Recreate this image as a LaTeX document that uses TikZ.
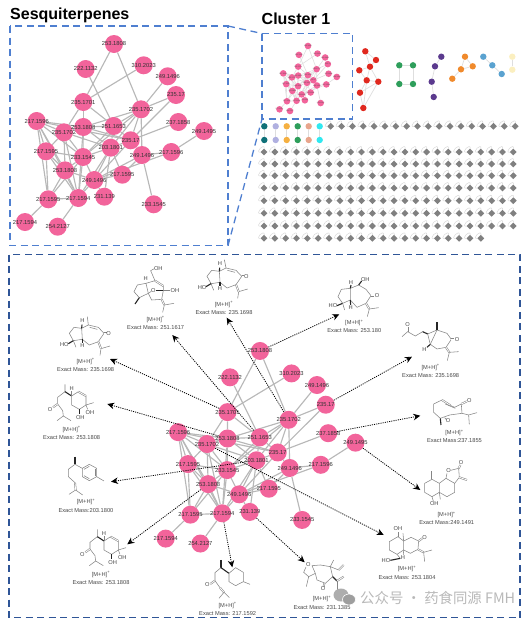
\documentclass[tikz,border=0pt]{standalone}
\usepackage{fontspec}
\setmainfont{Liberation Sans}
\newfontfamily\cjk{Noto Sans CJK SC}
\usetikzlibrary{arrows.meta,shapes.geometric,backgrounds}
\definecolor{mspink}{HTML}{F2649B}
\definecolor{framelight}{HTML}{4F7FD0}
\definecolor{framedark}{HTML}{2F5597}
\tikzset{
  msbig/.style={circle,fill=mspink,minimum size=18pt,inner sep=0pt},
  msmini/.style={circle,fill=mspink,minimum size=6.6pt,inner sep=0pt},
  bigtext/.style={inner sep=0pt,text=black!80,font=\fontsize{5.8}{6}\selectfont},
  minitext/.style={inner sep=0pt,text=black!70,font=\fontsize{1.8}{2}\selectfont},
  bigedge/.style={draw=black!28,line width=1.15pt},
  miniedge/.style={draw=black!13,line width=.6pt},
  clnode/.style={circle,minimum size=6.4pt,inner sep=0pt},
  cledge/.style={draw=black!13,line width=.7pt},
  singlenode/.style={diamond,fill=black!50,minimum size=7pt,inner sep=0pt},
  selfloop/.style={draw=black!16,line width=.45pt,out=185,in=85,min distance=6.5pt},
  zoomframe/.style={dash pattern=on 7pt off 4.5pt,line width=1.3pt},
  msarrow/.style={black,line width=.8pt,dash pattern=on 1.1pt off 1.1pt,-{Stealth[length=7pt,width=6.5pt]}},
  mslabel/.style={align=center,text=black!72,font=\fontsize{5.7}{8.2}\selectfont},
  bond/.style={draw=black!48,line width=.55pt},
  dbond/.style={bond,double=white,double distance=.8pt},
  wedge/.style={draw=black!85,line width=1.1pt},
  atomtxt/.style={text=black!72,inner sep=0pt,font=\fontsize{5.7}{6}\selectfont},
  cropA/.style={shift={(0pt,-250pt)},x=.3333pt,y=-.3333pt},
  cropB/.style={shift={(262pt,-250pt)},x=.3333pt,y=-.3333pt},
  cropC/.style={shift={(0pt,-435pt)},x=.3333pt,y=-.3333pt},
  cropD/.style={shift={(262pt,-435pt)},x=.3333pt,y=-.3333pt},
}
% the cluster: same nodes and edges in all three places
\newcommand{\sesqnet}[1]{
  \foreach \n/\x/\y/\t in {a/114/44/253.1808,b/85.7/69/222.1132,c/143.7/65.3/310.2023,d/167.7/76.3/249.1496,
    e/176/95/235.17,f/83.3/102/235.1701,g/141/109.3/235.1702,h/178.3/122/237.1858,i/204/131/249.1495,
    j/36.7/121/217.1596,k/64/132.3/235.1702,l/83.3/127/253.1808,m/113.7/126/251.1653,n/130.7/140.3/235.17,
    o/110.7/147.7/203.1801,p/46/151.3/217.1595,q/83/157/233.1545,r/142/155/249.1496,s/171.3/152/217.1596,
    t/65/170.3/253.1808,u/122.3/174.7/217.1595,v/94.3/180/249.1496,w/104.3/196.7/231.139,x/48.3/199.3/217.1595,
    y/78.3/198/217.1594,z/153.7/204.3/233.1545,aa/25/222/217.1594,bb/57.7/226.7/254.2127}
    \node[msnode,label={[mstext]center:\t}] (#1\n) at (\x,\y) {};
  \begin{pgfonlayer}{background}
  \foreach \s/\e in {a/f,a/g,b/m,c/f,d/g,e/g,e/n,h/n,i/s,s/r,s/v,g/n,g/m,g/l,g/r,g/o,g/q,f/k,f/l,f/m,
    j/k,j/p,j/t,j/x,j/y,j/l,j/n,j/q,k/q,k/l,k/p,k/t,k/y,k/o,l/q,l/m,l/n,l/o,l/y,m/o,m/n,m/q,n/o,n/r,n/v,
    o/q,o/v,o/y,o/w,o/u,p/t,p/q,p/x,p/y,q/t,q/v,q/y,q/x,r/u,r/v,r/z,t/x,t/y,t/v,u/v,v/w,v/y,x/y,x/aa,y/bb}
    \draw[msedge] (#1\s) -- (#1\e);
  \end{pgfonlayer}
}
% guaiane skeleton with the ketone
\newcommand{\guaiane}{
  \draw[bond] (245,235) -- (222,232) -- (208,250) -- (220,272) -- (247,268) -- cycle;
  \draw[bond] (245,235) -- (265,225);
  \draw[bond] (265,225) -- (295,232) -- (312,250) -- (295,275) -- (268,285) -- (247,268);
  \draw[bond] (303,296) -- (330,288);
  \draw[bond] (303,296) -- (300,316);
  \draw[dbond] (295,275) -- (303,296);
  \draw[dbond] (312,250) -- (320,250);
  \draw[wedge] (220,272) -- (205,281);
  \draw[bond] (220,272) -- (228,292);
  \draw[wedge] (245,235) -- (246,224);
  \draw[wedge] (247,268) -- (247,279);
  \node[atomtxt] at (326,250) {O};
  \node[atomtxt] at (193,283) {HO};
  \node[atomtxt] at (247,213) {H};
  \node[atomtxt] at (247,287) {H};
}
% open chain with the diol ring
\newcommand{\diolring}{
  \draw[bond] (292,283) -- (292,305) -- (270,322) -- (270,342) -- (285,362) -- (287,378) -- (268,392);
  \draw[bond] (287,378) -- (310,392);
  \draw[dbond] (270,342) -- (256,352);
  \draw[wedge] (292,305) -- (312,318);
  \draw[bond] (312,318) -- (332,305);
  \draw[dbond] (332,305) -- (355,318);
  \draw[bond] (355,318) -- (355,345) -- (335,358) -- (312,345) -- (312,318);
  \draw[bond] (355,345) -- (378,338);
  \draw[bond] (355,345) -- (360,358);
  \draw[wedge] (335,358) -- (335,373);
  \draw[bond] (312,318) -- (312,304);
  \node[atomtxt] at (312,295) {H};
  \node[atomtxt] at (247,358) {O};
  \node[atomtxt] at (367,368) {OH};
  \node[atomtxt] at (338,382) {OH};
}
\begin{document}
\begin{tikzpicture}[x=1pt,y=-1pt]
\useasboundingbox (0,0) rectangle (532,619);
% titles
\node[anchor=west,inner sep=0pt,font=\fontsize{16}{18}\selectfont\bfseries] (sesqtitle) at (10,15) {Sesquiterpenes};
\node[anchor=west,inner sep=0pt,font=\fontsize{16}{18}\selectfont\bfseries] (clustertitle) at (261.5,19) {Cluster 1};
% frames
\coordinate (sesqnw) at (10,26);
\coordinate (sesqne) at (228,26);
\coordinate (sesqse) at (228,245.5);
\coordinate (clnw) at (262,33.5);
\coordinate (clsw) at (262,119);
\coordinate (clse) at (352.5,119);
\coordinate (bignw) at (9,254.5);
\coordinate (bigse) at (520,617.5);
\draw[zoomframe,framelight] (sesqnw) rectangle (sesqse);
\draw[zoomframe,framelight] (clnw) rectangle (clse);
\draw[zoomframe,framelight] (sesqne) -- (clnw);
\draw[zoomframe,framelight] (sesqse) -- (clsw);
\draw[zoomframe,framedark] (bignw) rectangle (bigse);
% the three copies
\begin{scope}[msnode/.style=msbig,mstext/.style=bigtext,msedge/.style=bigedge]
\sesqnet{top}
\end{scope}
\begin{scope}[shift={(271.5pt,-30.3pt)},xscale=.32,yscale=.356,msnode/.style=msmini,mstext/.style=minitext,msedge/.style=miniedge]
\sesqnet{mini}
\end{scope}
\begin{scope}[shift={(139.2pt,-304.6pt)},xscale=1.06,yscale=1.054,msnode/.style=msbig,mstext/.style=bigtext,msedge/.style=bigedge]
\sesqnet{net}
\end{scope}
% small clusters
\foreach \n/\x/\y in {1/365.3/51.3,2/376/60,3/359.3/70.3,4/370/66.7,5/366.7/80.3,6/378.3/81.7,7/360/92.7,8/363.3/108}
  \node[clnode,fill={rgb,255:red,224;green,40;blue,30}] (red\n) at (\x,\y) {};
\foreach \n/\x/\y in {1/399.3/65.3,2/413/65.3,3/399.3/84,4/413/84}
  \node[clnode,fill={rgb,255:red,46;green,158;blue,91}] (grn\n) at (\x,\y) {};
\foreach \n/\x/\y in {1/441.3/56.7,2/435/66.3,3/431.7/81.7,4/433.7/97}
  \node[clnode,fill={rgb,255:red,91;green,58;blue,142}] (pur\n) at (\x,\y) {};
\foreach \n/\x/\y in {1/465/56.7,2/472.7/66.3,3/461/69.3,4/452.3/78.7}
  \node[clnode,fill={rgb,255:red,240;green,138;blue,44}] (org\n) at (\x,\y) {};
\foreach \n/\x/\y in {1/483.3/56.7,2/492.3/65.3,3/501.7/74}
  \node[clnode,fill={rgb,255:red,90;green,162;blue,208}] (blu\n) at (\x,\y) {};
\foreach \n/\x/\y in {1/512.3/56.7,2/512.3/69.7}
  \node[clnode,fill={rgb,255:red,251;green,239;blue,192}] (crm\n) at (\x,\y) {};
\foreach \n/\x/\c in {1/264.3/{rgb,255:red,15;green,112;blue,120},2/275.7/{rgb,255:red,176;green,176;blue,224},
  3/286.7/{rgb,255:red,245;green,176;blue,65},4/297.7/{rgb,255:red,46;green,158;blue,91},
  5/308.7/{rgb,255:red,232;green,165;blue,140},6/319.7/{rgb,255:red,48;green,232;blue,240}}{
  \node[clnode,fill=\c] (pairup\n) at (\x,126.3) {};
  \node[clnode,fill=\c] (pairdn\n) at (\x,140) {};
}
\begin{pgfonlayer}{background}
\foreach \s/\e in {red1/red2,red1/red4,red2/red4,red3/red4,red4/red5,red4/red6,red5/red6,red3/red5,red5/red7,red6/red7,red6/red8,red7/red8,red5/red8,
  grn1/grn2,grn2/grn4,grn4/grn3,grn3/grn1,pur1/pur2,pur2/pur3,pur3/pur4,org1/org2,org1/org3,org2/org3,org3/org4,blu1/blu2,blu2/blu3,crm1/crm2,
  pairup1/pairdn1,pairup2/pairdn2,pairup3/pairdn3,pairup4/pairdn4,pairup5/pairdn5,pairup6/pairdn6}
  \draw[cledge] (\s) -- (\e);
\end{pgfonlayer}
% singletons with their self loops
\foreach \col in {0,...,17}{
  \pgfmathsetmacro\xx{330.7+10.85*\col}
  \node[singlenode] (first\col) at (\xx,126.3) {};
  \draw[selfloop] (first\col) to (first\col);
}
\foreach \row/\yy/\last in {1/152/23,2/164/23,3/175.7/23,4/188/23,5/200.7/23,6/213.3/23,7/226/23,8/238.3/20}{
  \foreach \col in {0,...,\last}{
    \pgfmathsetmacro\xx{264+10.84*\col}
    \node[singlenode] (g\row-\col) at (\xx,\yy) {};
    \draw[selfloop] (g\row-\col) to (g\row-\col);
  }
}
% captions
\node[mslabel] (cap1) at (85.7,364.8) {[M+H]\textsuperscript{+}\\Exact Mass: 235.1698};
\node[mslabel] (cap2) at (155.7,323) {[M+H]\textsuperscript{+}\\Exact Mass: 251.1617};
\node[mslabel] (cap3) at (224,308) {[M+H]\textsuperscript{+}\\Exact Mass: 235.1698};
\node[mslabel] (cap4) at (354.3,326.3) {[M+H]\textsuperscript{+}\\Exact Mass: 253.180};
\node[mslabel] (cap5) at (430.7,371) {[M+H]\textsuperscript{+}\\Exact Mass: 235.1698};
\node[mslabel] (cap6) at (454.5,436.5) {[M+H]\textsuperscript{+}\\Exact Mass:237.1855};
\node[mslabel] (cap7) at (446.7,518.3) {[M+H]\textsuperscript{+}\\Exact Mass:249.1491};
\node[mslabel] (cap8) at (407,572.7) {[M+H]\textsuperscript{+}\\Exact Mass: 253.1804};
\node[mslabel] (cap9) at (322,602.7) {[M+H]\textsuperscript{+}\\Exact Mass: 231.1385};
\node[mslabel] (cap10) at (227.7,609) {[M+H]\textsuperscript{+}\\Exact Mass: 217.1592};
\node[mslabel] (cap11) at (101,578.2) {[M+H]\textsuperscript{+}\\Exact Mass: 253.1808};
\node[mslabel] (cap12) at (86,505.7) {[M+H]\textsuperscript{+}\\Exact Mass:203.1800};
\node[mslabel] (cap13) at (71.7,433.2) {[M+H]\textsuperscript{+}\\Exact Mass: 253.1808};
% structures
\begin{scope}[cropA]
\guaiane
\draw[bond] (262,200) -- (265,225);
\draw[bond] (269,232) -- (292,238);
\end{scope}
\begin{scope}[cropA]
\draw[bond] (438,100) -- (412,105) -- (402,125) -- (418,143) -- (445,130) -- cycle;
\draw[bond] (438,100) -- (465,92);
\draw[dbond] (465,92) -- (490,108);
\draw[bond] (490,108) -- (490,122) -- (485,148) -- (455,150) -- (445,130);
\draw[bond] (465,92) -- (452,62) -- (463,56);
\draw[bond] (445,130) -- (454,124);
\draw[wedge] (467,122) -- (490,122);
\draw[bond] (490,122) -- (511,122);
\draw[wedge] (418,143) -- (405,162);
\draw[dbond] (485,148) -- (493,165);
\draw[bond] (493,165) -- (522,160);
\draw[bond] (493,165) -- (488,187);
\node[atomtxt] at (475,55) {OH};
\node[atomtxt] at (437,87) {H};
\node[atomtxt] at (460,122) {O};
\node[atomtxt] at (525,122) {OH};
\end{scope}
\begin{scope}[cropA,xshift=137.7pt,yshift=57pt]
\guaiane
\draw[bond] (265,225) -- (260,200);
\draw[bond] (269,232) -- (292,238);
\end{scope}
\begin{scope}[cropB]
\draw[bond] (265,115) -- (238,118) -- (228,140) -- (242,160) -- (265,150) -- cycle;
\draw[bond] (265,115) -- (290,105) -- (312,118) -- (327,137) -- (312,160) -- (285,172) -- (265,150);
\draw[wedge] (290,105) -- (299,93);
\draw[dbond] (327,137) -- (336,137);
\draw[dbond] (312,160) -- (322,177);
\draw[bond] (322,177) -- (350,173);
\draw[bond] (322,177) -- (316,200);
\draw[wedge] (242,160) -- (225,167);
\draw[bond] (242,160) -- (248,180);
\draw[wedge] (265,150) -- (266,165);
\draw[wedge] (265,115) -- (267,105);
\node[atomtxt] at (267,98) {H};
\node[atomtxt] at (310,90) {OH};
\node[atomtxt] at (345,137) {O};
\node[atomtxt] at (213,168) {HO};
\node[atomtxt] at (266,172) {H};
% open chain on the bridged ring
\draw[dbond] (437,232) -- (437,245);
\draw[bond] (420,260) -- (437,245) -- (460,258) -- (482,245);
\draw[wedge] (482,245) -- (497,252);
\draw[bond] (497,252) -- (525,240) -- (555,250) -- (568,268) -- (552,292) -- (525,297) -- (505,283) -- (497,252);
\draw[bond] (525,240) -- (505,283);
\draw[wedge] (525,240) -- (525,217);
\draw[wedge] (505,283) -- (495,292);
\draw[dbond] (568,268) -- (577,268);
\draw[dbond] (552,292) -- (562,307);
\draw[bond] (562,307) -- (590,305);
\draw[bond] (562,307) -- (556,332);
\node[atomtxt] at (437,223) {O};
\node[atomtxt] at (487,298) {H};
\node[atomtxt] at (585,268) {O};
% ten membered ring
\draw[bond] (598,462) -- (578,472) -- (565,466);
\draw[dbond] (540,450) -- (565,466);
\draw[bond] (550,462) -- (580,475);
\draw[bond] (540,450) -- (515,462) -- (515,487) -- (535,505) -- (563,495) -- (600,490) -- (598,462);
\draw[dbond] (598,462) -- (615,454);
\draw[wedge] (535,505) -- (537,525);
\draw[bond] (548,503) -- (553,509);
\draw[bond] (600,490) -- (620,495) -- (645,488);
\draw[bond] (620,495) -- (622,523);
\node[atomtxt] at (622,452) {O};
\node[atomtxt] at (558,513) {O};
\end{scope}
\begin{scope}[cropC,xshift=-32.33pt,yshift=145pt]
\diolring
\end{scope}
\begin{scope}[cropC]
\diolring
% open chain on the aromatic ring
\draw[wedge] (225,65) -- (225,88);
\draw[bond] (225,88) -- (205,103) -- (205,125) -- (225,143);
\draw[dbond] (225,143) -- (227,165);
\draw[bond] (227,165) -- (207,178);
\draw[bond] (227,165) -- (248,180);
\draw[bond] (225,88) -- (247,100);
\draw[bond] (247,100) -- (268,88) -- (290,100) -- (290,125) -- (268,137) -- (247,125) -- cycle;
\draw[bond] (252,103) -- (268,94);
\draw[bond] (285,103) -- (285,122);
\draw[bond] (252,122) -- (268,131);
\draw[bond] (290,125) -- (312,138);
% same with the ketone chain
\draw[wedge] (663,375) -- (663,398);
\draw[bond] (663,398) -- (645,413) -- (645,437) -- (660,458);
\draw[dbond] (645,437) -- (631,447);
\draw[dbond] (660,458) -- (672,472);
\draw[bond] (672,472) -- (657,490);
\draw[bond] (672,472) -- (688,488);
\draw[wedge] (663,398) -- (687,415);
\draw[bond] (687,415) -- (707,398) -- (730,412) -- (730,440) -- (707,452) -- (687,440) -- cycle;
\draw[bond] (730,440) -- (750,448);
\node[atomtxt] at (622,450) {O};
\end{scope}
\begin{scope}[cropD]
\draw[bond] (510,133) -- (488,145) -- (488,172) -- (510,185) -- (532,172) -- (532,145) -- cycle;
\draw[bond] (532,145) -- (552,130) -- (578,145) -- (578,172) -- (555,185) -- (532,172);
\draw[bond] (552,130) -- (555,115);
\draw[bond] (566,106) -- (590,100) -- (592,127) -- (578,145);
\draw[dbond] (590,100) -- (595,90);
\draw[dbond] (592,127) -- (615,135);
\draw[dbond] (510,133) -- (510,108);
\draw[bond] (510,185) -- (514,198);
\draw[bond] (532,172) -- (535,193);
\node[atomtxt] at (560,107) {O};
\node[atomtxt] at (597,84) {O};
\node[atomtxt] at (517,207) {OH};
% decalin below it
\draw[bond] (408,305) -- (382,320) -- (382,345) -- (405,358) -- (425,345) -- (425,318) -- cycle;
\draw[bond] (425,318) -- (447,307) -- (470,318) -- (468,343) -- (445,355) -- (425,345);
\draw[dbond] (470,318) -- (481,310);
\draw[bond] (408,305) -- (408,291);
\draw[bond] (425,318) -- (423,295);
\draw[dbond] (468,343) -- (485,352);
\draw[bond] (485,352) -- (510,345);
\draw[bond] (485,352) -- (488,380);
\draw[bond] (405,358) -- (415,370);
\draw[wedge] (415,370) -- (385,376);
\draw[bond] (425,345) -- (424,360);
\node[atomtxt] at (408,282) {OH};
\node[atomtxt] at (488,307) {O};
\node[atomtxt] at (372,378) {HO};
\node[atomtxt] at (423,368) {H};
% furan
\draw[bond] (132,396) -- (125,412) -- (140,425) -- (160,415) -- (150,392);
\draw[bond] (150,392) -- (175,390) -- (205,395) -- (212,425) -- (190,445) -- (165,435) -- (160,415);
\draw[bond] (140,425) -- (133,455);
\draw[dbond] (187,445) -- (185,455);
\draw[bond] (205,395) -- (215,375);
\draw[bond] (205,395) -- (230,405);
\draw[dbond] (230,405) -- (245,390);
\draw[wedge] (212,425) -- (225,438);
\draw[dbond] (225,438) -- (245,425);
\draw[bond] (225,438) -- (225,465);
\node[atomtxt] at (139,390) {O};
\node[atomtxt] at (183,462) {O};
\end{scope}
% arrow ends
\coordinate (end1) at (110,359);
\coordinate (end2) at (172.3,335);
\coordinate (end3) at (226.7,317.7);
\coordinate (end4) at (107.3,404);
\coordinate (end5) at (111,481.7);
\coordinate (end6) at (127.3,544.3);
\coordinate (end7) at (232.3,567.3);
\coordinate (end8) at (304.7,562.3);
\coordinate (end9) at (383.7,535);
\coordinate (end10) at (420.3,490);
\coordinate (end11) at (420.3,415.7);
\coordinate (end12) at (412,356.7);
\coordinate (end13) at (339.3,314.3);
\draw[msarrow] (netf) -- (end1);
\draw[msarrow] (netm) -- (end2);
\draw[msarrow] (netg) -- (end3);
\draw[msarrow] (netl) -- (end4);
\draw[msarrow] (neto) -- (end5);
\draw[msarrow] (nett) -- (end6);
\draw[msarrow] (nety) -- (end7);
\draw[msarrow] (netw) -- (end8);
\draw[msarrow] (netk) -- (end9);
\draw[msarrow] (neti) -- (end10);
\draw[msarrow] (neth) -- (end11);
\draw[msarrow] (nete) -- (end12);
\draw[msarrow] (neta) -- (end13);
% watermark
\fill[black!32] (341,595) ellipse (7.5pt and 6.5pt);
\filldraw[black!38,draw=white,line width=.6pt] (349,599.5) ellipse (6.5pt and 5.5pt);
\node[anchor=west,inner sep=0pt,text=black!28,font=\fontsize{14.4}{16}\cjk] (mark) at (360,598) {公众号 · 药食同源 FMH};
\end{tikzpicture}
\end{document}
